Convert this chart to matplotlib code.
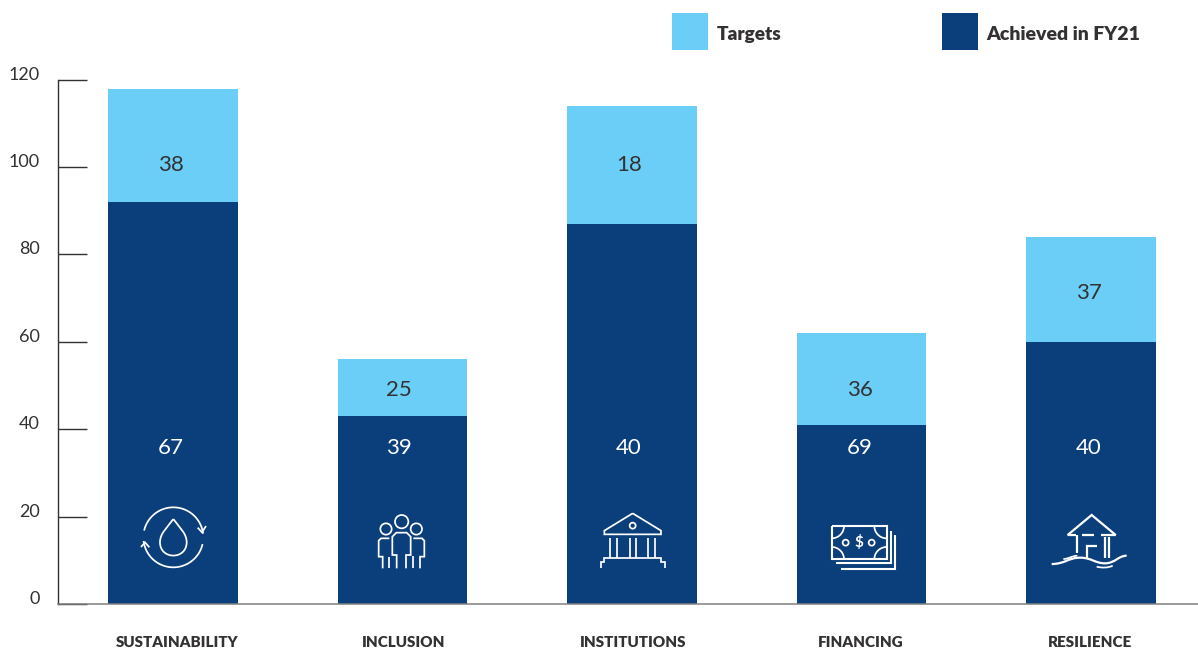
import numpy as np
import matplotlib
matplotlib.use("Agg")
import matplotlib.pyplot as plt
from matplotlib.lines import Line2D
from matplotlib.path import Path
from matplotlib.patches import PathPatch, Circle, Rectangle
from matplotlib.transforms import Affine2D

# data
categories = ["SUSTAINABILITY", "INCLUSION", "INSTITUTIONS", "FINANCING", "RESILIENCE"]
achieved_height = [92, 43, 87, 41, 60]
target_height = [25.8, 13, 27, 21, 24]  # light part stacked on top of the dark part
achieved_labels = ["67", "39", "40", "69", "40"]
target_labels = ["38", "25", "18", "36", "37"]
y_ticks = [0, 20, 40, 60, 80, 100, 120]

# the printed numbers do not sit in the middle of the segments
achieved_label_y = [35.6, 35.6, 35.6, 35.6, 35.6]
target_label_y = [100.4, 48.9, 100.4, 48.9, 71.1]
label_shift = [-0.011, -0.015, -0.014, -0.008, -0.009]
cat_shift = [0.017, 0.007, 0.004, -0.004, -0.006]

DARK = "#0B3F7C"
LIGHT = "#6BCEF6"
TEXT = "#333132"

W, H = 1198, 651
plt.rcParams["font.family"] = ["Lato", "DejaVu Sans"]

fig = plt.figure(figsize=(W / 100, H / 100), dpi=100)
ax = fig.add_axes([57.8 / W, 1 - 604 / H, (W - 57.8) / W, (604 - 79.6) / H])

x = np.arange(len(categories))
ax.bar(x, achieved_height, width=0.566, color=DARK, zorder=2)
ax.bar(x, target_height, width=0.566, bottom=achieved_height, color=LIGHT, zorder=2)

ax.set_xlim((57.8 - 173) / 229.5, (W - 173) / 229.5)
ax.set_ylim(0, 120)

for i in x:
    ax.text(i + label_shift[i], achieved_label_y[i], achieved_labels[i], color="white",
            fontsize=16, ha="center", va="center", zorder=3)
    ax.text(i + label_shift[i], target_label_y[i], target_labels[i], color=TEXT,
            fontsize=16, ha="center", va="center", zorder=3)

ax.set_yticks(y_ticks)
ax.tick_params(axis="y", direction="in", length=21, width=1, color=TEXT, pad=13,
               labelsize=13, labelcolor=TEXT)
for lab in ax.get_yticklabels():
    lab.set_verticalalignment("baseline")

ax.set_xticks(x + np.array(cat_shift))
ax.set_xticklabels(categories, fontsize=10.9, fontweight="heavy", color=TEXT)
ax.tick_params(axis="x", length=0, pad=23.2)

ax.spines["top"].set_visible(False)
ax.spines["right"].set_visible(False)
ax.spines["left"].set_color(TEXT)
ax.spines["left"].set_linewidth(1)
ax.spines["bottom"].set_color("#808080")
ax.spines["bottom"].set_linewidth(1.1)
ax.spines["bottom"].set_zorder(4)

# everything below is placed in image pixels (y going down)
px = Affine2D().scale(1, -1).translate(0, H)


def sq(x0, y0, w, h, color):
    fig.add_artist(Rectangle((x0, y0), w, h, color=color, lw=0, transform=px))


sq(672, 13, 36, 37, LIGHT)
sq(942, 13, 36, 37, DARK)
fig.text(717, 0, "Targets", transform=px + Affine2D().translate(0, -40),
         fontsize=13.7, fontweight="heavy", color=TEXT, va="baseline")
fig.text(986.5, 0, "Achieved in FY21", transform=px + Affine2D().translate(0, -40),
         fontsize=14, fontweight="heavy", color=TEXT, va="baseline")


def z(pts, ox, oy):
    return [(ox + a / 3, oy + b / 3) for a, b in pts]


def line(pts, ox, oy, lw=1.25):
    p = z(pts, ox, oy)
    fig.add_artist(Line2D([q[0] for q in p], [q[1] for q in p], color="white", lw=lw,
                          transform=px, solid_capstyle="butt", solid_joinstyle="miter", zorder=5))


def ring(cx, cy, r, ox, oy, lw=1.25):
    c = z([(cx, cy)], ox, oy)[0]
    fig.add_artist(Circle(c, r / 3, fill=False, ec="white", lw=lw, transform=px, zorder=5))


def arc(cx, cy, r, a0, a1, ox, oy, lw=1.25):
    t = np.radians(np.linspace(a0, a1, 40))
    line(list(zip(cx + r * np.cos(t), cy + r * np.sin(t))), ox, oy, lw)


def curve(verts, ox, oy, lw=1.25):
    # first point then triples of bezier points
    p = z(verts, ox, oy)
    codes = [Path.MOVETO] + [Path.CURVE4] * (len(p) - 1)
    fig.add_artist(PathPatch(Path(p, codes), fill=False, ec="white", lw=lw, transform=px, zorder=5))


# water cycle
ox, oy = 100, 490
arc(220, 142, 90, 193, 353, ox, oy)
arc(220, 142, 90, 13, 173, ox, oy)
line([(293, 113), (306, 127), (318, 108)], ox, oy)
line([(123, 171), (135, 157), (148, 172)], ox, oy)
curve([(220, 87), (200, 115), (180, 130), (180, 157), (180, 210), (260, 210), (260, 157),
       (260, 130), (240, 115), (220, 87)], ox, oy)

# people
ring(905, 95, 20, ox, oy)
ring(858, 117, 17, ox, oy)
ring(949, 117, 17, ox, oy)
line([(890, 235), (890, 195), (877, 195), (877, 140), (889, 128), (920, 128), (932, 140),
      (932, 195), (918, 195), (918, 235)], ox, oy)
line([(868, 145), (843, 145), (836, 152), (836, 200), (848, 200), (848, 235)], ox, oy)
line([(868, 200), (868, 235)], ox, oy)
line([(940, 145), (966, 145), (973, 152), (973, 200), (960, 200), (960, 235)], ox, oy)
line([(938, 198), (938, 235)], ox, oy)

# bank
ox, oy = 560, 490
line([(218, 70), (303, 122), (303, 133), (133, 133), (133, 122), (218, 70)], ox, oy)
ring(218, 107, 9, ox, oy)
for cx in [151, 170, 209, 228, 265, 284]:
    line([(cx, 143), (cx, 205)], ox, oy)
line([(122, 233), (122, 215), (133, 215), (133, 205), (303, 205), (303, 215), (314, 215),
      (314, 233)], ox, oy)

# money
line([(815, 108), (980, 108), (980, 208), (815, 208), (815, 108)], ox, oy, 1.5)
arc(815, 108, 37, 0, 90, ox, oy)
arc(980, 108, 37, 90, 180, ox, oy)
arc(815, 208, 37, 270, 360, ox, oy)
arc(980, 208, 37, 180, 270, ox, oy)
ring(857, 158, 9, ox, oy)
ring(935, 158, 9, ox, oy)
line([(828, 220), (993, 220), (993, 122)], ox, oy, 1.5)
line([(842, 236), (1006, 236), (1006, 135)], ox, oy, 1.5)
fig.text(ox + 897 / 3, 0, "$", transform=px + Affine2D().translate(0, -(oy + 158 / 3)),
         color="white", fontsize=11, fontweight="bold", ha="center", va="center", zorder=5)

# flooded house
ox, oy = 1000, 490
line([(228, 135), (203, 135), (275, 75), (347, 135), (303, 135)], ox, oy, 1.6)
line([(245, 135), (282, 135)], ox, oy, 1.6)
line([(230, 135), (230, 190)], ox, oy, 1.6)
line([(316, 140), (316, 205)], ox, oy, 1.6)
line([(327, 140), (327, 205)], ox, oy, 1.6)
line([(262, 205), (262, 167), (290, 167)], ox, oy, 1.6)
curve([(155, 222), (195, 222), (205, 203), (240, 203), (275, 203), (285, 220), (315, 220),
       (345, 220), (355, 197), (380, 197)], ox, oy, 1.6)
curve([(190, 207), (205, 207), (215, 198), (232, 197)], ox, oy)
curve([(290, 230), (305, 234), (325, 234), (338, 227)], ox, oy)

fig.savefig("out.png", dpi=100)
